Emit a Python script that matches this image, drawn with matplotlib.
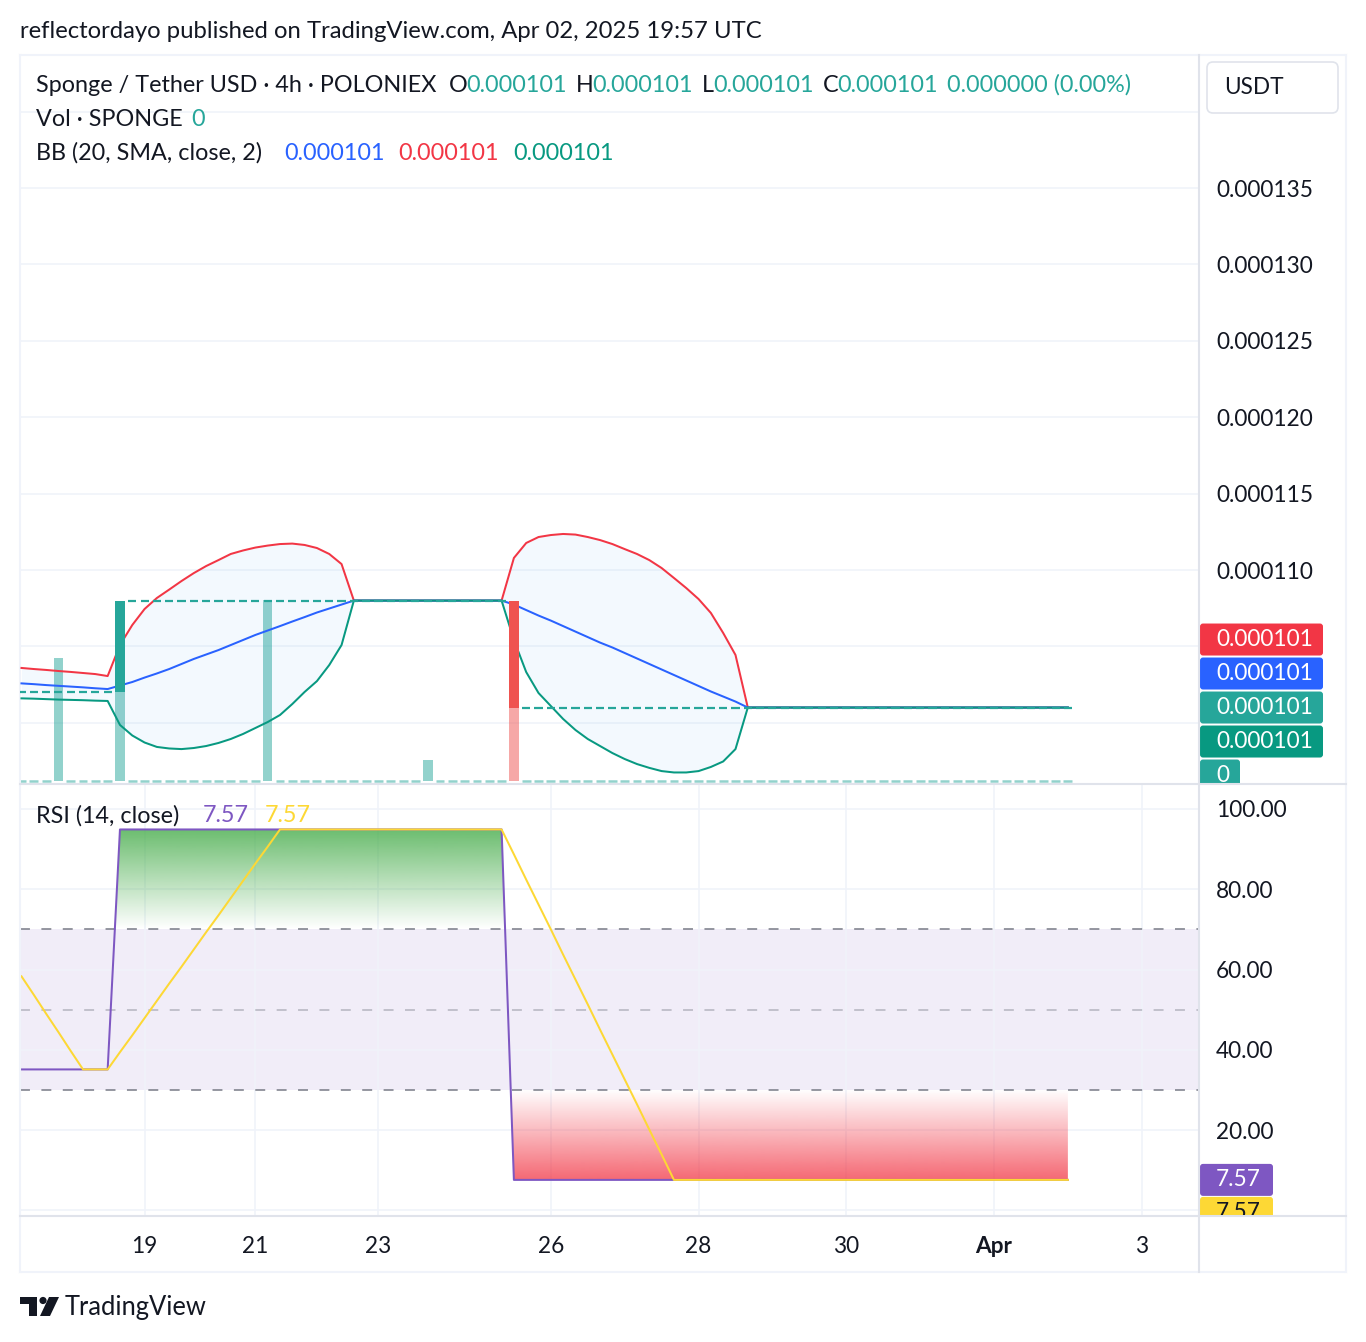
import numpy as np
import matplotlib
matplotlib.use('Agg')
import matplotlib.pyplot as plt
from matplotlib.patches import FancyBboxPatch, Polygon, Circle
from matplotlib.lines import Line2D
from matplotlib.path import Path
from matplotlib.transforms import IdentityTransform, Bbox

plt.rcParams['font.family'] = ['Lato', 'DejaVu Sans']

W, H = 1366, 1342

# ---- data: 4h candles, prices in 1e-6 USDT, x = bar index ----
price_open = [102.0] * 8 + [102.0] + [108.0] * 31 + [108.0] + [101.0] * 45
price_close = [102.0] * 8 + [108.0] + [108.0] * 31 + [101.0] + [101.0] * 45

vol_bars = [3, 8, 20, 33, 40]
vol_values = [6800, 8300, 10000, 1150, 7700]

bb_upper = ([103.59, 103.52, 103.46, 103.39, 103.33, 103.26, 103.19, 103.06,
             105.09, 106.40, 107.45, 108.17, 108.72, 109.28, 109.80, 110.26,
             110.65, 111.05, 111.28, 111.47, 111.60, 111.70, 111.73, 111.64,
             111.44, 111.05, 110.39, 108.0]
            + [108.0] * 12
            + [110.79, 111.77, 112.16, 112.29, 112.36, 112.32, 112.16, 111.96,
               111.70, 111.37, 111.05, 110.65, 110.13, 109.48, 108.82, 108.10,
               107.19, 105.88, 104.44, 101.0]
            + [101.0] * 26)
bb_basis = ([102.58, 102.53, 102.47, 102.42, 102.37, 102.32, 102.26, 102.21,
             102.44, 102.67, 102.96, 103.23, 103.52, 103.85, 104.18, 104.47,
             104.76, 105.09, 105.42, 105.75, 106.04, 106.33, 106.63, 106.92,
             107.22, 107.48, 107.74, 108.0]
            + [108.0] * 12
            + [107.74, 107.38, 107.02, 106.69, 106.33, 105.97, 105.61, 105.25,
               104.93, 104.57, 104.21, 103.85, 103.49, 103.13, 102.77, 102.41,
               102.05, 101.72, 101.39, 101.0]
            + [101.0] * 26)
bb_lower = ([101.60, 101.58, 101.55, 101.52, 101.50, 101.48, 101.45, 101.43,
             99.86, 99.17, 98.71, 98.42, 98.32, 98.28, 98.35, 98.48,
             98.68, 98.94, 99.27, 99.66, 100.05, 100.51, 101.23, 102.02,
             102.73, 103.78, 105.09, 108.0]
            + [108.0] * 12
            + [105.42, 103.32, 101.95, 101.10, 100.25, 99.53, 98.94, 98.48,
               98.02, 97.63, 97.30, 97.05, 96.84, 96.75, 96.75, 96.84,
               97.11, 97.47, 98.28, 101.0]
            + [101.0] * 26)

rsi = [35.1] * 8 + [94.9] * 32 + [7.57] * 46
rsi_ma = ([58.3, 53.7, 49.0, 44.4, 39.7, 35.1, 35.1, 35.1]
          + [39.4, 43.6, 47.9, 52.2, 56.5, 60.7, 65.0, 69.3, 73.5, 77.8,
             82.1, 86.4, 90.6, 94.9]
          + [94.9] * 18
          + [88.7, 82.4, 76.2, 70.0, 63.7, 57.5, 51.3, 45.0, 38.8, 32.6,
             26.4, 20.1, 13.9, 7.57]
          + [7.57] * 32)

tick_bars = [10, 19, 29, 43, 55, 67, 79, 91]
tick_labels = ['19', '21', '23', '26', '28', '30', 'Apr', '3']
price_ticks = [100, 105, 110, 115, 120, 125, 130, 135, 140]
rsi_ticks = [0, 20, 40, 60, 80, 100]

TXT = '#131722'
GRID = '#f0f3fa'
SEP = '#e0e3eb'
UP, DOWN = '#26a69a', '#ef5350'
FS = 16.8     # legend / header text
FSA = 16.3    # scale labels
LW = 1.45

# ---- figure / panes (pixel layout of the screenshot) ----
fig = plt.figure(figsize=(W / 100, H / 100), dpi=100)
fig.patch.set_facecolor('white')


def fx(x):
    return x / W


def fy(y):
    return 1 - y / H


ax = fig.add_axes([fx(20), fy(783), 1178 / W, 728 / H])
axv = ax.twinx()
ax.set_zorder(2)
axv.set_zorder(1)
ax.patch.set_visible(False)
ax_r = fig.add_axes([fx(20), fy(1215), 1178 / W, 430 / H])

x = np.arange(len(price_close))
o = np.array(price_open) * 1e-6
c = np.array(price_close) * 1e-6
up = np.array(bb_upper) * 1e-6
mid = np.array(bb_basis) * 1e-6
lo = np.array(bb_lower) * 1e-6
vol = np.zeros(len(x))
vol[vol_bars] = vol_values

xlim = (-0.12, 95.57)

# volume (under price)
vcol = np.array([UP if c[i] >= o[i] else DOWN for i in x])
nz = vol > 0
axv.bar(x[nz], vol[nz], width=0.78, color=vcol[nz], alpha=0.5, lw=0)
axv.hlines(np.zeros((~nz).sum()), x[~nz] - 0.36, x[~nz] + 0.36, color=vcol[~nz],
           alpha=0.5, lw=1.8)
axv.set_ylim(-110, 40100)
axv.yaxis.set_visible(False)
axv.set_xticks(tick_bars)
axv.grid(axis='x', color=GRID, lw=1.2)
for p in price_ticks:
    axv.add_artist(Line2D([0, 1], [p * 1e-6, p * 1e-6], transform=ax.get_yaxis_transform(),
                          color=GRID, lw=1.2, zorder=0))

# bollinger bands
ax.fill_between(x, lo, up, color='#2196f3', alpha=0.05, lw=0, zorder=1)
ax.plot(x, up, color='#f23645', lw=LW, zorder=2)
ax.plot(x, mid, color='#2962ff', lw=LW, zorder=2)
ax.plot(x, lo, color='#089981', lw=LW, zorder=2)

# candles
flat = o == c
ax.hlines(c[flat], x[flat] - 0.33, x[flat] + 0.33, color=UP, lw=1.6, zorder=3)
body = ~flat
ax.bar(x[body], (c - o)[body], bottom=o[body], width=0.8, zorder=3,
       color=[UP if c[i] > o[i] else DOWN for i in x[body]])

ax.set_xlim(*xlim)
ax.set_ylim(96.06e-6, 143.71e-6)
ax.yaxis.tick_right()
ax.set_yticks([p * 1e-6 for p in price_ticks])
ax.set_yticklabels([f'{p * 1e-6:.6f}' if 110 <= p <= 135 else '' for p in price_ticks])
ax.tick_params(axis='y', length=0, pad=13, labelsize=FSA, labelcolor=TXT)
ax.set_xticks(tick_bars)
ax.tick_params(axis='x', length=0, labelbottom=False)
for a in (ax, axv, ax_r):
    for s in a.spines.values():
        s.set_visible(False)

# ---- RSI pane ----
rs = np.array(rsi)
rm = np.array(rsi_ma)
ax_r.axhspan(30, 70, color='#7e57c2', alpha=0.1, lw=0, zorder=0.5)
for lvl, al in ((70, 1.0), (50, 0.5), (30, 1.0)):
    ax_r.axhline(lvl, color='#787b86', alpha=al, lw=1.1, ls=(0, (6.5, 7.5)), zorder=1.5)


def gradient_fill(level, lo_v, hi_v, rgb, top_opaque, where):
    poly = ax_r.fill_between(x, rs, level, where=where, interpolate=True,
                             color='none', lw=0)
    g = np.linspace(0, 1, 256).reshape(-1, 1)
    img = np.zeros((256, 1, 4))
    img[..., 0], img[..., 1], img[..., 2] = rgb
    img[..., 3] = g if top_opaque else 1 - g
    im = ax_r.imshow(img, extent=[x[0], x[-1], lo_v, hi_v], origin='lower',
                     aspect='auto', zorder=1, interpolation='bilinear')
    im.set_clip_path(Path.make_compound_path(*poly.get_paths()), transform=ax_r.transData)


gradient_fill(70, 70, 100, (76 / 255, 175 / 255, 80 / 255), True, rs >= 70)
gradient_fill(30, 0, 30, (242 / 255, 54 / 255, 69 / 255), False, rs <= 30)

ax_r.plot(x, rs, color='#7e57c2', lw=LW, zorder=2)
ax_r.plot(x, rm, color='#fdd835', lw=LW, zorder=2.1)

ax_r.set_xlim(*xlim)
ax_r.set_ylim(-1.18, 105.98)
ax_r.yaxis.tick_right()
ax_r.set_yticks(rsi_ticks)
ax_r.set_yticklabels(['' if t == 0 else f'{t:.2f}' for t in rsi_ticks])
ax_r.set_xticks(tick_bars)
ax_r.set_xticklabels(tick_labels)
for lab in ax_r.get_xticklabels():
    if lab.get_text() == 'Apr':
        lab.set_fontweight('bold')
ax_r.tick_params(axis='both', length=0, labelsize=FSA, labelcolor=TXT)
ax_r.tick_params(axis='y', pad=13)
ax_r.tick_params(axis='x', pad=15)
ax_r.grid(color=GRID, lw=1.2, zorder=0)
ax_r.set_axisbelow(True)

# ---- frame, separators ----
I = IdentityTransform()


def pline(x0, y0, x1, y1, color=SEP, lw=1.5):
    fig.add_artist(Line2D([x0, x1], [H - y0, H - y1], transform=I, color=color, lw=lw))


pline(20, 55, 1346, 55, GRID)
pline(20, 1272, 1346, 1272, GRID)
pline(20, 55, 20, 1272, GRID)
pline(1346, 55, 1346, 1272, GRID)
pline(1199, 55, 1199, 1272)
pline(20, 784, 1346, 784)
pline(20, 1216, 1346, 1216)

fig.add_artist(FancyBboxPatch((1207, H - 113), 131, 51, boxstyle='round,pad=0,rounding_size=6',
                              transform=I, facecolor='white', edgecolor=SEP, lw=1.2))
fig.text(fx(1224), fy(88), 'USDT', fontsize=FSA, color=TXT, va='center')

# ---- last-value labels on the scales ----
fig.canvas.draw()
last = len(x) - 1
price_clip = Bbox.from_extents(1199, H - 783, 1346, H - 55)
rsi_clip = Bbox.from_extents(1199, H - 1215, 1346, H - 785)


def scale_label(ycen, width, color, text, tcolor, clip):
    r = FancyBboxPatch((1200, ycen - 16), width, 32, boxstyle='round,pad=0,rounding_size=3',
                       transform=I, facecolor=color, edgecolor='none')
    r.set_clip_box(clip)
    fig.add_artist(r)
    t = fig.text(fx(1216), (ycen + 0.5) / H, text, color=tcolor, fontsize=FSA, va='center')
    t.set_clip_box(clip)
    t.set_clip_on(True)


# all four price labels sit at the same level, so they get stacked like on TradingView
y_last = ax.transData.transform((0, c[last]))[1]
price_labels = [(up[last], '#f23645', 68), (mid[last], '#2962ff', 34),
                (c[last], '#26a69a', 0), (lo[last], '#089981', -34)]
for val, col, dy in price_labels:
    scale_label(y_last + dy, 123, col, f'{val:.6f}', 'white', price_clip)
scale_label(y_last - 68, 40, '#26a69a', f'{vol[last]:.0f}', 'white', price_clip)

y_rsi = ax_r.transData.transform((0, rs[last]))[1]
scale_label(y_rsi, 73, '#7e57c2', f'{rs[last]:.2f}', 'white', rsi_clip)
scale_label(y_rsi - 33, 73, '#fdd835', f'{rm[last]:.2f}', TXT, rsi_clip)

# ---- legends ----
renderer = fig.canvas.get_renderer()


def legend_row(y_px, parts, x_px=36):
    xp = x_px
    for s, col, gap in parts:
        t = fig.text(fx(xp), fy(y_px), s, color=col, fontsize=FS, va='center', ha='left')
        xp = t.get_window_extent(renderer).x1 + gap


fig.text(fx(20), fy(31), 'reflectordayo published on TradingView.com, Apr 02, 2025 19:57 UTC',
         fontsize=17.2, color=TXT, va='center')
g = '#26a69a'
legend_row(85, [('Sponge / Tether USD · 4h · POLONIEX', TXT, 13),
                ('O', TXT, -2), (f'{o[last]:.6f}', g, 9),
                ('H', TXT, -1), (f'{c[last]:.6f}', g, 9),
                ('L', TXT, -1), (f'{c[last]:.6f}', g, 9),
                ('C', TXT, -1), (f'{c[last]:.6f}', g, 9),
                (f'{c[last] - o[last]:.6f} (0.00%)', g, 0)])
legend_row(119, [('Vol · SPONGE', TXT, 9), (f'{vol[last]:.0f}', g, 0)])
legend_row(153, [('BB (20, SMA, close, 2)', TXT, 22), (f'{mid[last]:.6f}', '#2962ff', 14),
                 (f'{up[last]:.6f}', '#f23645', 14), (f'{lo[last]:.6f}', '#089981', 0)])
legend_row(816, [('RSI (14, close)', TXT, 24), (f'{rs[last]:.2f}', '#7e57c2', 16),
                 (f'{rm[last]:.2f}', '#fdd835', 0)])

# ---- TradingView mark ----
fig.add_artist(Polygon([(20, H - 1297), (37, H - 1297), (37, H - 1316), (29, H - 1316),
                        (29, H - 1304), (20, H - 1304)], closed=True, transform=I,
                       facecolor=TXT, edgecolor='none'))
fig.add_artist(Circle((43, H - 1300.5), 3.6, transform=I, facecolor=TXT, edgecolor='none'))
fig.add_artist(Polygon([(49, H - 1297), (59, H - 1297), (50, H - 1316), (40, H - 1316)],
                       closed=True, transform=I, facecolor=TXT, edgecolor='none'))
fig.text(fx(65), fy(1307), 'TradingView', fontsize=18.4, color=TXT, va='center')

fig.savefig('out.png', dpi=100)
